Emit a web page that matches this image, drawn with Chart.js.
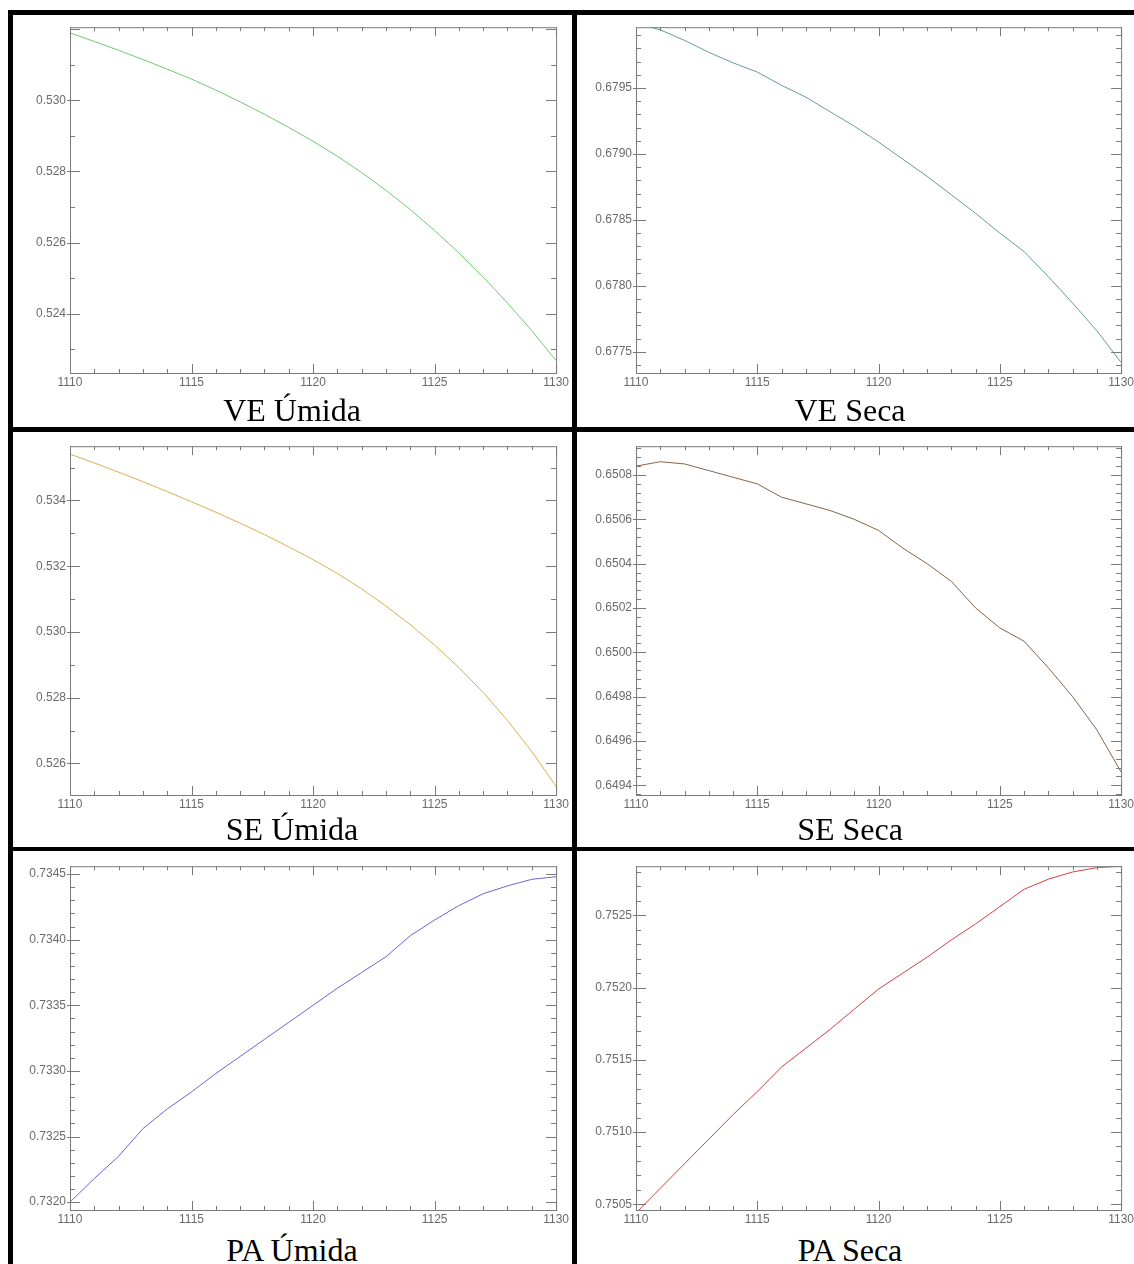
<!DOCTYPE html>
<html>
<head>
<meta charset="utf-8">
<script src="https://cdn.jsdelivr.net/npm/chart.js@4.4.1/dist/chart.umd.min.js"></script>
<style>
html, body { margin: 0; padding: 0; background: #fff; }
#fig { position: relative; width: 1134px; height: 1264px; overflow: hidden; background: #fff; }
#fig canvas { position: absolute; }
.cap { position: absolute; font-family: "Liberation Serif", "Times New Roman", serif; font-size: 32px; line-height: 32px; color: #000; white-space: nowrap; transform: translateX(-50%); }
.rule { position: absolute; background: #000; z-index: 5; }
</style>
</head>
<body>
<div id="fig"></div>
<script>
// years on the x axis
const years = [1110, 1111, 1112, 1113, 1114, 1115, 1116, 1117, 1118, 1119, 1120,
               1121, 1122, 1123, 1124, 1125, 1126, 1127, 1128, 1129, 1130];

// series values
const veUmida = [0.53190, 0.53166, 0.53141, 0.53115, 0.53088, 0.53060, 0.53029, 0.52996, 0.52961, 0.52924, 0.52885,
                 0.52843, 0.52797, 0.52747, 0.52693, 0.52634, 0.52571, 0.52503, 0.52430, 0.52352, 0.52268];
const veSeca = [0.67999, 0.67994, 0.67986, 0.67977, 0.67969, 0.67962, 0.67952, 0.67943, 0.67932, 0.67921, 0.67909,
                0.67896, 0.67883, 0.67869, 0.67855, 0.67840, 0.67826, 0.67807, 0.67787, 0.67766, 0.67742];
const seUmida = [0.53541, 0.53514, 0.53486, 0.53457, 0.53427, 0.53396, 0.53364, 0.53331, 0.53296, 0.53259, 0.53220,
                 0.53178, 0.53131, 0.53079, 0.53022, 0.52960, 0.52892, 0.52816, 0.52731, 0.52636, 0.52530];
const seSeca = [0.65084, 0.65086, 0.65085, 0.65082, 0.65079, 0.65076, 0.65070, 0.65067, 0.65064, 0.65060, 0.65055,
                0.65047, 0.65040, 0.65032, 0.65020, 0.65011, 0.65005, 0.64993, 0.64980, 0.64965, 0.64946];
const paUmida = [0.73200, 0.73218, 0.73235, 0.73256, 0.73271, 0.73284, 0.73298, 0.73311, 0.73324, 0.73337, 0.73350,
                 0.73363, 0.73375, 0.73387, 0.73403, 0.73415, 0.73426, 0.73435, 0.73441, 0.73446, 0.73448];
const paSeca = [0.75044, 0.75061, 0.75078, 0.75095, 0.75112, 0.75128, 0.75145, 0.75158, 0.75171, 0.75185, 0.75199,
                0.75210, 0.75221, 0.75233, 0.75244, 0.75256, 0.75268, 0.75275, 0.75280, 0.75283, 0.75284];

// axis ranges [min, max]
const veUmidaRange = [0.52233, 0.53206];
const veSecaRange = [0.67734, 0.67996];
const seUmidaRange = [0.52504, 0.53565];
const seSecaRange = [0.649356, 0.65093];
const paUmidaRange = [0.73194, 0.73456];
const paSecaRange = [0.75046, 0.75284];

const xRange = [1110, 1130];
const xMajor = 5;

const AXIS = '#7a7a7a';
const LABEL = '#6a6a6a';

const panels = [
  { title: 'VE Úmida', data: veUmida, range: veUmidaRange, step: 0.001,   major: 0.002,  dec: 3, color: '#72c872', plot: [70, 24, 559, 373],    cap: [292, 421] },
  { title: 'VE Seca',  data: veSeca,  range: veSecaRange,  step: 0.0001,  major: 0.0005, dec: 4, color: '#639c9c', plot: [636, 24, 1124, 373],  cap: [850, 421] },
  { title: 'SE Úmida', data: seUmida, range: seUmidaRange, step: 0.001,   major: 0.002,  dec: 3, color: '#d8b050', plot: [70, 443, 559, 795],   cap: [292, 840] },
  { title: 'SE Seca',  data: seSeca,  range: seSecaRange,  step: 0.00004, major: 0.0002, dec: 4, color: '#85654a', plot: [636, 443, 1124, 795], cap: [850, 840] },
  { title: 'PA Úmida', data: paUmida, range: paUmidaRange, step: 0.0001,  major: 0.0005, dec: 4, color: '#6c64d8', plot: [70, 863, 559, 1210],  cap: [292, 1261] },
  { title: 'PA Seca',  data: paSeca,  range: paSecaRange,  step: 0.0001,  major: 0.0005, dec: 4, color: '#d84040', plot: [636, 863, 1124, 1210], cap: [850, 1261] }
];

function isMultiple(v, m) {
  const r = v / m;
  return Math.abs(r - Math.round(r)) < 1e-6;
}

// frame around the plot with inward ticks on all four sides
const frameTicks = {
  id: 'frameTicks',
  afterDatasetsDraw(chart) {
    const { ctx, chartArea: a, scales: { x, y } } = chart;
    ctx.save();
    ctx.strokeStyle = AXIS;
    ctx.lineWidth = 1;
    ctx.strokeRect(a.left + 0.5, a.top + 0.5, a.right - a.left, a.bottom - a.top);
    ctx.beginPath();
    x.ticks.forEach(t => {
      const px = Math.round(x.getPixelForValue(t.value)) + 0.5;
      const len = t.label !== '' ? 9 : 4;
      ctx.moveTo(px, a.bottom); ctx.lineTo(px, a.bottom - len);
      ctx.moveTo(px, a.top); ctx.lineTo(px, a.top + len);
    });
    y.ticks.forEach(t => {
      const py = Math.round(y.getPixelForValue(t.value)) + 0.5;
      const major = isMultiple(t.value, chart.options.majorStep);
      const len = major ? 10 : 5;
      ctx.moveTo(a.left - (t.label !== '' ? 3 : 0), py); ctx.lineTo(a.left + len, py);
      ctx.moveTo(a.right, py); ctx.lineTo(a.right - len, py);
    });
    ctx.stroke();
    ctx.restore();
  }
};

const fig = document.getElementById('fig');
const YW = 66, XH = 22, PT = 8, PR = 12;

panels.forEach(p => {
  const [l, t, r, b] = p.plot;
  const cv = document.createElement('canvas');
  const w = (r - l) + YW + PR;
  const h = (b - t) + PT + XH;
  cv.width = w; cv.height = h;
  cv.style.left = (l - YW) + 'px';
  cv.style.top = (t - PT) + 'px';
  cv.style.width = w + 'px';
  cv.style.height = h + 'px';
  fig.appendChild(cv);

  // no label on a tick that sits right on the top or bottom edge
  const span = p.range[1] - p.range[0];
  const edgeGap = 3 * span / (b - t);

  new Chart(cv, {
    type: 'line',
    data: {
      labels: years,
      datasets: [{
        data: years.map((yr, i) => ({ x: yr, y: p.data[i] })),
        borderColor: p.color,
        borderWidth: 1,
        pointRadius: 0,
        tension: 0,
        fill: false
      }]
    },
    options: {
      majorStep: p.major,
      responsive: false,
      maintainAspectRatio: false,
      devicePixelRatio: 1,
      animation: false,
      layout: { padding: { left: 0, top: PT, right: PR, bottom: 0 }, autoPadding: false },
      plugins: { legend: { display: false }, tooltip: { enabled: false } },
      scales: {
        x: {
          type: 'linear',
          min: xRange[0], max: xRange[1],
          grid: { display: false, drawTicks: false },
          border: { display: false },
          ticks: {
            stepSize: 1, autoSkip: false, includeBounds: false, maxRotation: 0,
            padding: 2, color: LABEL,
            font: { family: 'Liberation Sans', size: 12 },
            callback: v => (isMultiple(v, xMajor) ? String(v) : '')
          },
          afterFit: s => { s.height = XH; }
        },
        y: {
          type: 'linear',
          min: p.range[0], max: p.range[1],
          grid: { display: false, drawTicks: false },
          border: { display: false },
          ticks: {
            stepSize: p.step, autoSkip: false, includeBounds: false,
            padding: 4, color: LABEL,
            font: { family: 'Liberation Sans', size: 12 },
            callback: v => (isMultiple(v, p.major) && p.range[1] - v > edgeGap && v - p.range[0] > edgeGap ? v.toFixed(p.dec) : '')
          },
          afterFit: s => { s.width = YW; }
        }
      }
    },
    plugins: [frameTicks]
  });

  const cap = document.createElement('div');
  cap.className = 'cap';
  cap.textContent = p.title;
  cap.style.left = p.cap[0] + 'px';
  cap.style.top = (p.cap[1] - 27) + 'px';
  fig.appendChild(cap);
});

// thick black panel rules
[[8, 10, 1126, 5], [8, 10, 5, 1254], [572, 10, 5, 1254], [8, 427, 1126, 5], [8, 847, 1126, 4]].forEach(([x, y, w, h]) => {
  const d = document.createElement('div');
  d.className = 'rule';
  d.style.left = x + 'px'; d.style.top = y + 'px';
  d.style.width = w + 'px'; d.style.height = h + 'px';
  fig.appendChild(d);
});
</script>
</body>
</html>
